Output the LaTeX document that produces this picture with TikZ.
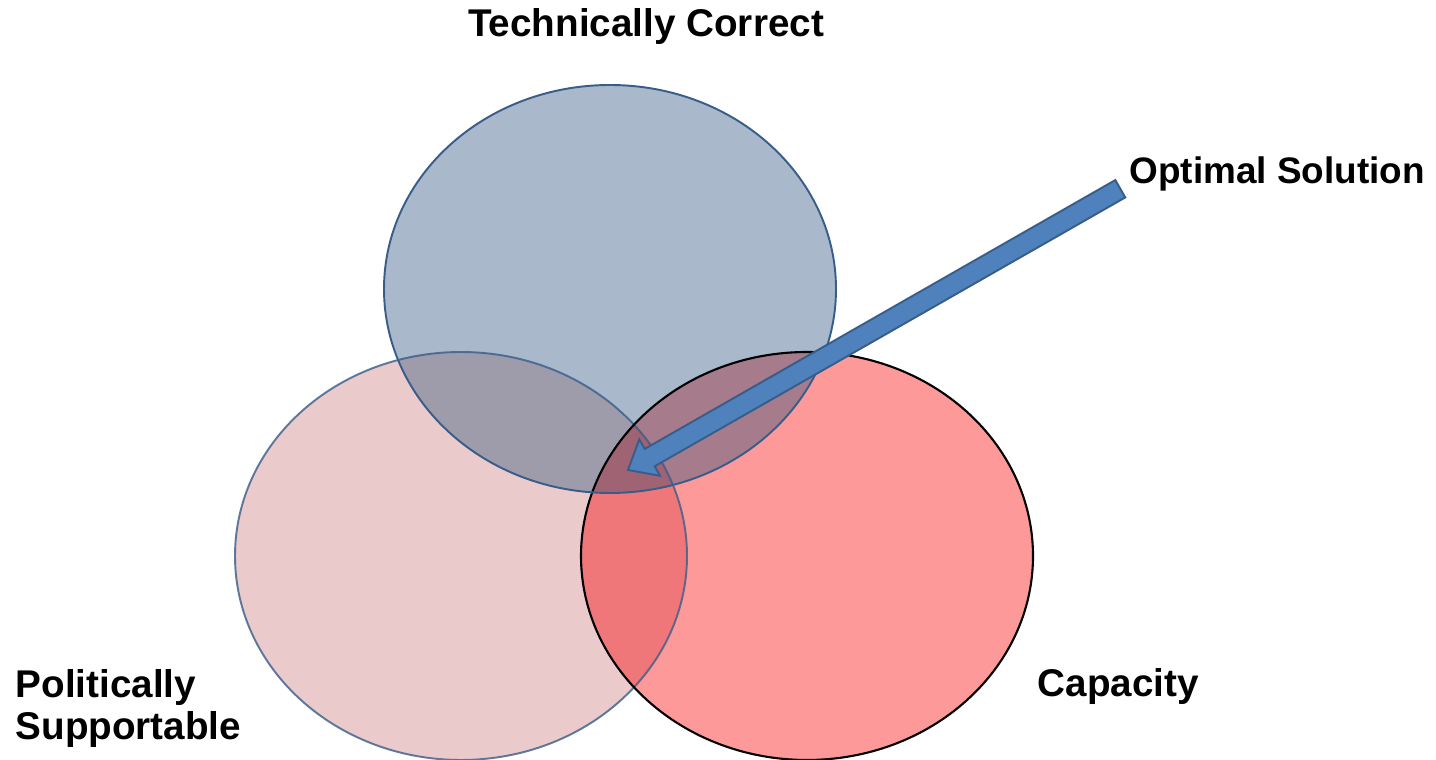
\documentclass[tikz,border=0pt]{standalone}
\usepackage{fontspec}
\setmainfont{Liberation Sans}
\usepackage{tikz}
\usetikzlibrary{calc}

\definecolor{topfill}{HTML}{A9B9CB}
\definecolor{leftfill}{HTML}{EBCACB}
\definecolor{rightfill}{HTML}{FE9999}
\definecolor{lrfill}{HTML}{F07779}
\definecolor{tlfill}{HTML}{9E9CAB}
\definecolor{trfill}{HTML}{A67C8C}
\definecolor{allfill}{HTML}{9F6373}
\definecolor{rimblue}{HTML}{385D8A}
\definecolor{arrowblue}{HTML}{4F81BD}

\begin{document}
\begin{tikzpicture}[x=0.02cm,y=0.02cm,thick]

%Define ellipse parameters
\def\rx{226}        %Horizontal radius.
\def\ry{204}        %Vertical radius.
\def\topset{(610,471) ellipse ({\rx} and {\ry})}
\def\leftset{(461,204) ellipse ({\rx} and {\ry})}
\def\rightset{(807,204) ellipse ({\rx} and {\ry})}

\tikzset{label/.style={font=\fontsize{22}{24.4}\selectfont\bfseries,inner sep=0pt}}

\useasboundingbox (0,0) rectangle (1436,760);

% Define coordinates
\coordinate (tip) at (628,290);
\coordinate (tail) at (1120,571);

% Plain fills
\fill[rightfill] \rightset;
\fill[leftfill] \leftset;
\fill[topfill] \topset;

% Overlaps
\begin{scope}
  \clip \leftset;
  \fill[lrfill] \rightset;
\end{scope}
\begin{scope}
  \clip \topset;
  \fill[tlfill] \leftset;
  \fill[trfill] \rightset;
  \clip \leftset;
  \fill[allfill] \rightset;
\end{scope}

% Outlines
\draw[rimblue,draw opacity=0.8,line width=1.1pt] \leftset;
\draw[black,line width=1.2pt] \rightset;
\draw[rimblue,line width=1.1pt] \topset;

% Arrow to the common region
\begin{scope}[shift={(tip)},rotate=29.74]
  \filldraw[fill=arrowblue,draw=rimblue,line width=1.1pt,line join=miter]
    (0,0) -- (25,21) -- (25,10) -- (567,10) -- (567,-10) -- (25,-10) -- (25,-21) -- cycle;
\end{scope}

% Labels
\node[label,anchor=base] (tc) at (646,723) {Technically Correct};
\node[label,font=\fontsize{21}{24.4}\selectfont\bfseries,anchor=base west] (opt) at (1129,576) {Optimal Solution};
\node[label,anchor=base west] (cap) at (1037,63) {Capacity};
\node[label,anchor=base west,align=left] (pol) at (15,20) {Politically\\Supportable};

\end{tikzpicture}
\end{document}
